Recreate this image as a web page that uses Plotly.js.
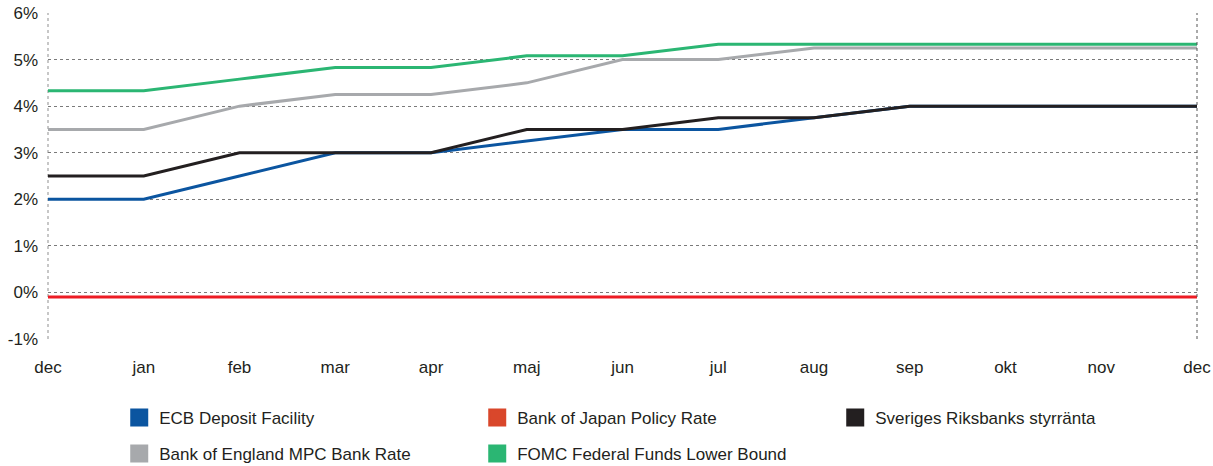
<!DOCTYPE html>
<html>
<head>
<meta charset="utf-8">
<script src="https://cdn.plot.ly/plotly-3.0.1.min.js"></script>
<style>html,body{margin:0;padding:0;background:#fff;}#chart{width:1213px;height:466px;}</style>
</head>
<body>
<div id="chart"></div>
<script>
// Month labels (one point per month)
const months = ['dec','jan','feb','mar','apr','maj','jun','jul','aug','sep','okt','nov','dec'];
const xIndex = [0,1,2,3,4,5,6,7,8,9,10,11,12];

// Series values (%)
const ecb  = [2, 2, 2.5, 3, 3, 3.25, 3.5, 3.5, 3.75, 4, 4, 4, 4];
const boj  = [-0.1, -0.1, -0.1, -0.1, -0.1, -0.1, -0.1, -0.1, -0.1, -0.1, -0.1, -0.1, -0.1];
const riks = [2.5, 2.5, 3, 3, 3, 3.5, 3.5, 3.75, 3.75, 4, 4, 4, 4];
const boe  = [3.5, 3.5, 4, 4.25, 4.25, 4.5, 5, 5, 5.25, 5.25, 5.25, 5.25, 5.25];
const fomc = [4.33, 4.33, 4.58, 4.83, 4.83, 5.08, 5.08, 5.33, 5.33, 5.33, 5.33, 5.33, 5.33];

// Y tick labels
const yTickVals = [-1, 0, 1, 2, 3, 4, 5, 6];
const yTickText = ['-1%', '0%', '1%', '2%', '3%', '4%', '5%', '6%'];

const names = ['ECB Deposit Facility', 'Bank of Japan Policy Rate', 'Sveriges Riksbanks styrränta',
               'Bank of England MPC Bank Rate', 'FOMC Federal Funds Lower Bound'];

const FONT = 'Liberation Sans, Arial, sans-serif';
const TXT = '#231f20';

function line(y, color, name) {
  return {x: xIndex, y: y, type: 'scatter', mode: 'lines', name: name,
          line: {color: color, width: 3}, showlegend: false, hoverinfo: 'x+y'};
}
function legendItem(name, color, leg) {
  return {x: [null], y: [null], type: 'scatter', mode: 'markers', name: name, legend: leg,
          marker: {symbol: 'square', size: 16, color: color, line: {color: color, width: 2}},
          showlegend: true, hoverinfo: 'skip'};
}

const data = [
  line(boj, '#ed1c24', names[1]),
  line(boe, '#a7a9ac', names[3]),
  line(ecb, '#0b55a0', names[0]),
  line(riks, '#231f20', names[2]),
  line(fomc, '#2bb673', names[4]),
  legendItem(names[0], '#0b55a0', 'legend'),
  legendItem(names[1], '#d9472b', 'legend'),
  legendItem(names[2], '#231f20', 'legend'),
  legendItem(names[3], '#a7a9ac', 'legend2'),
  legendItem(names[4], '#2bb673', 'legend2')
];

const legendBase = {
  orientation: 'h', xanchor: 'left', yanchor: 'middle', x: 0.062,
  entrywidth: 313, entrywidthmode: 'pixels',
  font: {family: FONT, size: 17, color: TXT},
  bgcolor: 'rgba(0,0,0,0)', borderwidth: 0
};

const layout = {
  width: 1213, height: 466,
  margin: {l: 48, r: 16, t: 13, b: 127, autoexpand: false},
  paper_bgcolor: '#fff', plot_bgcolor: '#fff',
  font: {family: FONT, size: 17, color: TXT},
  xaxis: {
    range: [0, 12], tickmode: 'array', tickvals: xIndex, ticktext: months,
    showgrid: false, zeroline: false, showline: false, ticks: '',
    ticklabelstandoff: 16, automargin: false,
    tickfont: {family: FONT, size: 17, color: TXT}, fixedrange: true
  },
  yaxis: {
    range: [-1, 6], tickmode: 'array', tickvals: yTickVals, ticktext: yTickText,
    showgrid: true, gridcolor: '#7a7a7a', gridwidth: 1, griddash: 'dot',
    zeroline: false, showline: false, ticks: '', ticklabelstandoff: 9, automargin: false,
    tickfont: {family: FONT, size: 17, color: TXT}, fixedrange: true
  },
  shapes: [
    {type: 'line', xref: 'paper', yref: 'paper', x0: 0, x1: 0, y0: 0, y1: 1,
     line: {color: '#b5b5b5', width: 1.5, dash: 'dot'}, layer: 'below'},
    {type: 'line', xref: 'paper', yref: 'paper', x0: 1, x1: 1, y0: 0, y1: 1,
     line: {color: '#555', width: 1, dash: 'dot'}, layer: 'above'}
  ],
  legend: Object.assign({}, legendBase, {y: -0.2423}),
  legend2: Object.assign({}, legendBase, {y: -0.3528}),
  showlegend: true
};

Plotly.newPlot('chart', data, layout, {displayModeBar: false, staticPlot: true});
</script>
</body>
</html>
